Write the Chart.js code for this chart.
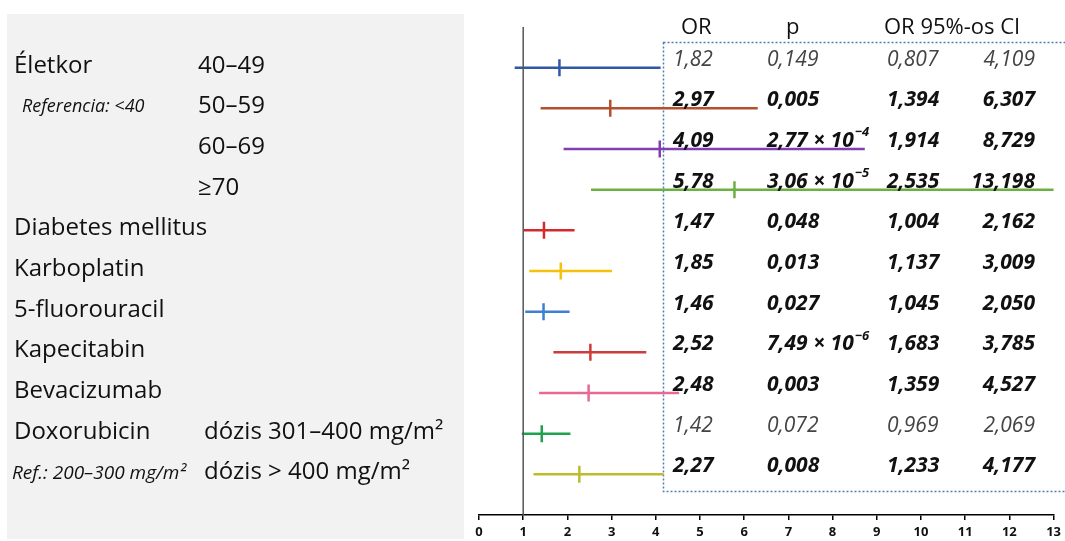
<!DOCTYPE html>
<html>
<head>
<meta charset="utf-8">
<script src="https://cdn.jsdelivr.net/npm/chart.js@4.4.1/dist/chart.umd.min.js"></script>
<style>
  html, body { margin: 0; padding: 0; background: #fff; }
  #wrap { width: 1065px; height: 541px; }
</style>
</head>
<body>
<div id="wrap"><canvas id="forest" width="1065" height="541"></canvas></div>
<script>
// one entry per row, top to bottom
const rowLabels = ["Életkor", "", "", "", "Diabetes mellitus", "Karboplatin", "5-fluorouracil", "Kapecitabin", "Bevacizumab", "Doxorubicin", ""];
const subLabels = ["40–49", "50–59", "60–69", "≥70", "", "", "", "", "", "dózis 301–400 mg/m²", "dózis > 400 mg/m²"];
const refNotes = ["", "Referencia: <40", "", "", "", "", "", "", "", "", "Ref.: 200–300 mg/m²"];

const oddsRatios = [1.82, 2.97, 4.09, 5.78, 1.47, 1.85, 1.46, 2.52, 2.48, 1.42, 2.27];
const ciLow = [0.807, 1.394, 1.914, 2.535, 1.004, 1.137, 1.045, 1.683, 1.359, 0.969, 1.233];
const ciHigh = [4.109, 6.307, 8.729, 13.198, 2.162, 3.009, 2.050, 3.785, 4.527, 2.069, 4.177];
const pValues = ["0,149", "0,005", "2,77 × 10^−4", "3,06 × 10^−5", "0,048", "0,013", "0,027", "7,49 × 10^−6", "0,003", "0,072", "0,008"];
const significant = [false, true, true, true, true, true, true, true, true, false, true];
const rowColors = ["#2f58a6", "#b4512c", "#7f3fb3", "#6cb043", "#d42a2e", "#f4c20d", "#3d7fd0", "#cf3a3a", "#e66a93", "#1fa24f", "#bcbc2c"];

const xTicks = [0, 1, 2, 3, 4, 5, 6, 7, 8, 9, 10, 11, 12, 13];
const refValue = 1;

const fmt3 = v => v.toFixed(3).replace(".", ",");
const fmt2 = v => v.toFixed(2).replace(".", ",");

const FAMILY = '"Open Sans", "Noto Sans", sans-serif';

function drawRich(ctx, text, x, y, size) {
  const parts = text.split("^");
  const mainFont = ctx.font;
  const w = ctx.measureText(parts[0]).width;
  ctx.textAlign = "left";
  ctx.fillText(parts[0], x, y);
  if (parts[1]) {
    ctx.font = mainFont.replace(/\d+px/, Math.round(size * 0.62) + "px");
    ctx.fillText(parts[1], x + w + 1, y - size * 0.4);
    ctx.font = mainFont;
  }
}

const decorPlugin = {
  id: "decor",
  beforeDraw(chart) {
    const ctx = chart.ctx;
    ctx.save();
    ctx.fillStyle = "#ffffff";
    ctx.fillRect(0, 0, chart.width, chart.height);
    ctx.fillStyle = "#f2f2f2";
    ctx.fillRect(7, 14, 457, 525);
    ctx.restore();
  },
  beforeDatasetsDraw(chart) {
    const ctx = chart.ctx;
    ctx.save();
    ctx.strokeStyle = "#4f7fae";
    ctx.lineWidth = 1.5;
    ctx.setLineDash([2, 2]);
    ctx.strokeRect(663.5, 42.5, 420, 449);
    ctx.restore();
  },
  afterDraw(chart) {
    const ctx = chart.ctx;
    const yScale = chart.scales.y;
    ctx.save();
    ctx.textBaseline = "middle";

    // headers
    ctx.fillStyle = "#111";
    ctx.font = "22px " + FAMILY;
    ctx.textAlign = "left";
    ctx.fillText("OR", 681, 28);
    ctx.fillText("p", 786, 28);
    ctx.fillText("OR 95%-os CI", 884, 28);

    rowLabels.forEach((lab, i) => {
      const yl = yScale.getPixelForValue(i) - 2;
      ctx.fillStyle = "#111";
      ctx.textAlign = "left";
      ctx.font = "24px " + FAMILY;
      if (lab) ctx.fillText(lab, 14, yl);
      if (subLabels[i]) ctx.fillText(subLabels[i], i >= 9 ? 204 : 198, yl);
      if (refNotes[i]) {
        ctx.font = (i === 1 ? "italic 18px " : "italic 19px ") + FAMILY;
        ctx.fillText(refNotes[i], i === 1 ? 22 : 12, yl + 1);
      }

      // table values
      const yt = yScale.getPixelForValue(i) - 8;
      const bold = significant[i];
      ctx.fillStyle = bold ? "#111" : "#444";
      ctx.font = (bold ? "italic bold 21px " : "italic 21px ") + FAMILY;
      ctx.textAlign = "left";
      ctx.fillText(fmt2(oddsRatios[i]), 673, yt);
      drawRich(ctx, pValues[i], 767, yt, 21);
      ctx.fillText(fmt3(ciLow[i]), 887, yt);
      ctx.textAlign = "right";
      ctx.fillText(fmt3(ciHigh[i]), 1035, yt);
    });
    ctx.restore();
  }
};

const datasets = [];
datasets.push({
  type: "line",
  data: [{ x: refValue, y: -1 }, { x: refValue, y: 11 }],
  borderColor: "#555",
  borderWidth: 1.5,
  pointRadius: 0
});
oddsRatios.forEach((v, i) => {
  datasets.push({
    type: "line",
    data: [{ x: ciLow[i], y: i }, { x: ciHigh[i], y: i }],
    borderColor: rowColors[i],
    borderWidth: 2.5,
    pointRadius: 0
  });
});
datasets.push({
  type: "scatter",
  data: oddsRatios.map((v, i) => ({ x: v, y: i })),
  pointStyle: "line",
  rotation: 90,
  pointRadius: 8.5,
  borderWidth: 2.5,
  borderColor: rowColors,
  backgroundColor: rowColors
});

new Chart(document.getElementById("forest"), {
  type: "scatter",
  data: { datasets },
  options: {
    responsive: false,
    animation: false,
    layout: { padding: { left: 479, right: 10, top: 27, bottom: 0 } },
    plugins: { legend: { display: false }, tooltip: { enabled: false } },
    scales: {
      x: {
        type: "linear",
        min: 0,
        max: 13,
        afterBuildTicks: s => { s.ticks = xTicks.map(v => ({ value: v })); },
        afterFit: s => { s.height = 26; },
        ticks: { color: "#111", font: { family: FAMILY, size: 13, weight: "bold" }, padding: 4 },
        grid: { drawOnChartArea: false, drawTicks: true, tickLength: 5, color: "#000", lineWidth: 1.5 },
        border: { color: "#000", width: 1.5 }
      },
      y: {
        type: "linear",
        min: -1,
        max: 11,
        reverse: true,
        display: false
      }
    }
  },
  plugins: [decorPlugin]
});
</script>
</body>
</html>
